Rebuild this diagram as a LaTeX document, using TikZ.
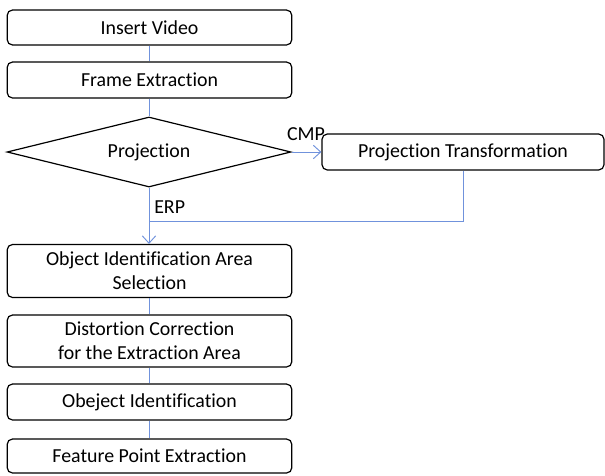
\documentclass[tikz,border=0pt]{standalone}
\usepackage{fontspec}
\setmainfont{Carlito}[Ligatures=CommonOff]
\usetikzlibrary{arrows.meta, positioning, shapes.geometric}
\definecolor{linkblue}{RGB}{112,146,220}
\tikzset{%
	box/.style={draw, rectangle, rounded corners=4pt, line width=0.9pt,%
		minimum width=213.5pt, inner sep=0pt, align=center, font=\fontsize{14.9}{18}\selectfont},
	choice/.style={draw, diamond, aspect=4, line width=0.9pt, minimum width=213pt,%
		minimum height=52.5pt, inner sep=0pt, font=\fontsize{14.9}{18}\selectfont},
	link/.style={draw=linkblue, line width=0.7pt, >={Straight Barb[length=5.5pt, width=10pt]}},
	tag/.style={inner sep=0pt, font=\fontsize{14.9}{18}\selectfont}
}

\begin{document}
\begin{tikzpicture}[x=0.75pt, y=-0.75pt]
	\useasboundingbox (0,0) rectangle (605,475);

	\node[box, minimum height=26.25pt] (insert) at (149.5,27.5) {Insert Video};
	\node[box, minimum height=27pt] (frame) at (149.5,80) {Frame Extraction};
	\node[choice] (proj) at (149,152) {Projection};
	\node[box, minimum width=211.5pt, minimum height=27pt] (trans) at (463,152) {Projection Transformation};
	\node[box, minimum height=39.75pt] (select) at (149.5,271) {Object Identification Area\\Selection};
	\node[box, minimum height=39pt] (distort) at (149.5,341) {Distortion Correction\\for the Extraction Area};
	\node[box, minimum height=27pt] (ident) at (149.5,402) {Obeject Identification};
	\node[box, minimum height=25.5pt] (feature) at (149.5,456) {Feature Point Extraction};
	\coordinate (join) at (149,221);

	\draw[link] (insert) -- (frame);
	\draw[link] (frame.south -| proj.north) -- (proj);
	\draw[link, ->] (proj) -- (trans);
	\draw[link, ->] (proj.south) -- (select.north -| proj.south);
	\draw[link] (trans) |- (join);
	\draw[link] (select) -- (distort);
	\draw[link] (distort) -- (ident);
	\draw[link] (ident) -- (feature);

	\node[tag] (cmp) at (306,134) {CMP};
	\node[tag, anchor=west] (erp) at (154,207) {ERP};
\end{tikzpicture}
\end{document}
